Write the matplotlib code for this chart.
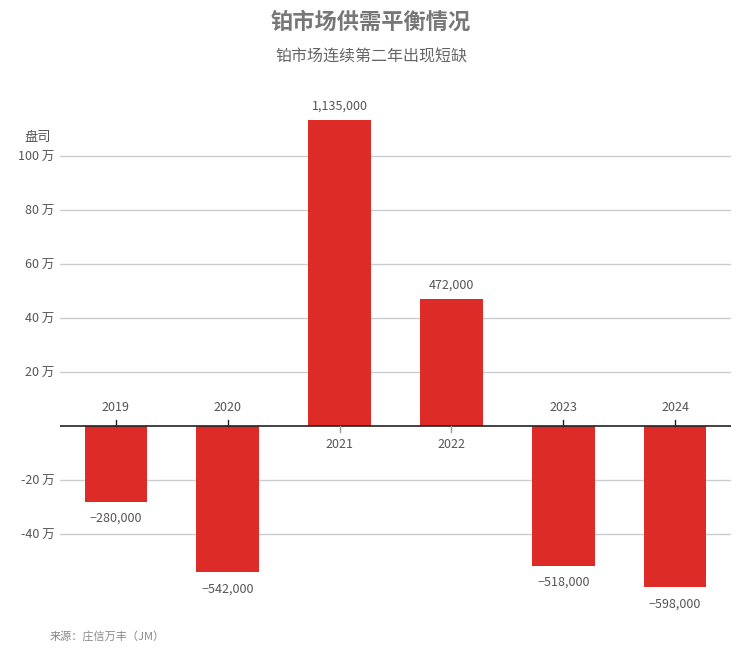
import matplotlib
matplotlib.use("Agg")
import matplotlib.pyplot as plt

plt.rcParams['font.family'] = ['Noto Sans CJK SC', 'DejaVu Sans']

# data
years = ["2019", "2020", "2021", "2022", "2023", "2024"]
balance = [-280000, -542000, 1135000, 472000, -518000, -598000]
yticks = [-400000, -200000, 200000, 400000, 600000, 800000, 1000000]
ytick_labels = ["-40 万", "-20 万", "20 万", "40 万", "60 万", "80 万", "100 万"]

W, H = 742, 661
fig = plt.figure(figsize=(W / 100, H / 100), dpi=100)

# axes placed in pixel terms
left, right, top, bottom = 60, 731, 115, 600
ax = fig.add_axes([left / W, 1 - bottom / H, (right - left) / W, (bottom - top) / H])

px_per_unit = 270 / 1e6
ax.set_ylim(-(bottom - 426) / px_per_unit, (426 - top) / px_per_unit)
ax.set_xlim(-0.5, len(years) - 0.5)

red = "#dd2c27"
txt = "#555555"
xs = range(len(years))

for y in yticks:
    ax.axhline(y, color="#cccccc", lw=1, zorder=0)

ax.bar(xs, balance, width=0.56, color=red, zorder=2)
ax.axhline(0, color="#222222", lw=1.2, zorder=3)

for x, v, yr in zip(xs, balance, years):
    lab = f"{abs(v):,}"
    if v < 0:
        lab = "\u2212" + lab
        ax.text(x, v - 10 / px_per_unit, lab, ha="center", va="top", fontsize=9, color=txt)
        ax.text(x, 12 / px_per_unit, yr, ha="center", va="bottom", fontsize=9, color=txt)
        ax.plot([x, x], [0, 6 / px_per_unit], color="#222222", lw=1, zorder=3)
    else:
        ax.text(x, v + 7 / px_per_unit, lab, ha="center", va="bottom", fontsize=9, color=txt)
        ax.text(x, -12 / px_per_unit, yr, ha="center", va="top", fontsize=9, color=txt)
        ax.plot([x, x], [0, -6 / px_per_unit], color="#999999", lw=1, zorder=3)

ax.set_yticks(yticks)
ax.set_yticklabels(ytick_labels, fontsize=9, color=txt)
ax.tick_params(axis="y", length=0, pad=4)
ax.set_xticks([])
for s in ax.spines.values():
    s.set_visible(False)

fig.text(38 / W, 1 - 137 / H, "盘司", ha="center", va="center", fontsize=9.5, color=txt)

fig.text(0.5, 1 - 22 / H, "铂市场供需平衡情况", ha="center", va="center",
         fontsize=16, fontweight="bold", color="#777777")
fig.text(0.5, 1 - 57 / H, "铂市场连续第二年出现短缺", ha="center", va="center",
         fontsize=11.5, color="#666666")
fig.text(50 / W, 1 - 636 / H, "来源：庄信万丰（JM）", ha="left", va="center",
         fontsize=8, color="#888888", style="italic")

fig.savefig("out.png", dpi=100)
